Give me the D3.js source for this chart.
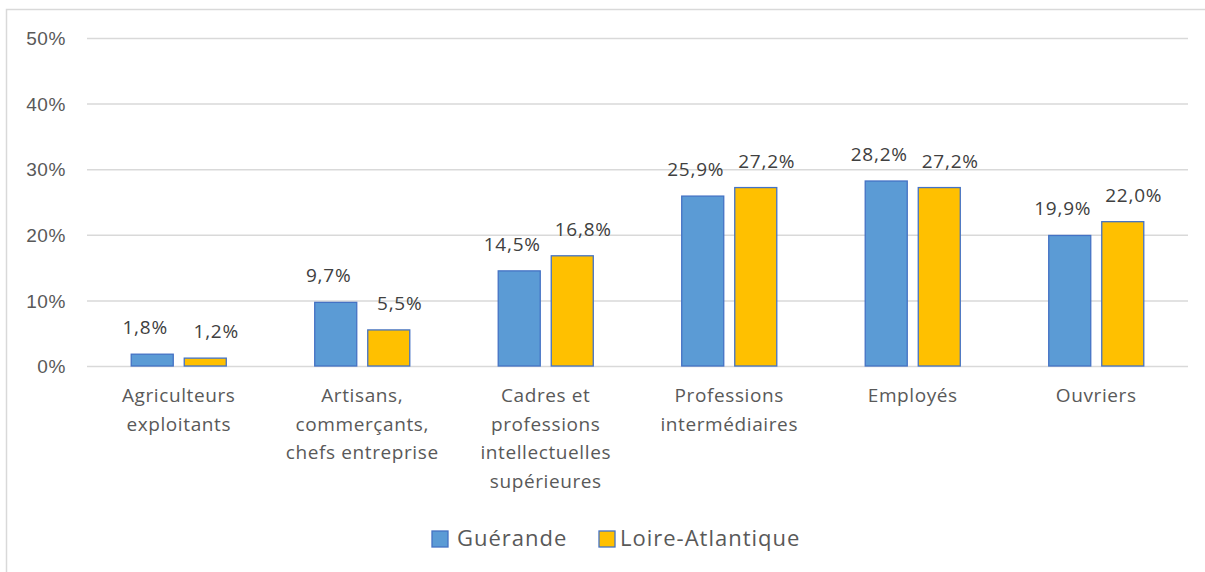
<!DOCTYPE html>
<html>
<head>
<meta charset="utf-8">
<script src="https://cdn.jsdelivr.net/npm/d3@7"></script>
<style>
  html, body { margin: 0; padding: 0; background: #fff; }
  svg { display: block; font-family: "Open Sans", sans-serif; }
</style>
</head>
<body>
<div id="chart"></div>
<script>
// categories (multi-line labels)
const categories = [
    ['Agriculteurs', 'exploitants'],
    ['Artisans,', 'commerçants,', 'chefs entreprise'],
    ['Cadres et', 'professions', 'intellectuelles', 'supérieures'],
    ['Professions', 'intermédiaires'],
    ['Employés'],
    ['Ouvriers']
];
const seriesNames = ['Guérande', 'Loire-Atlantique'];
const guerande = [1.8, 9.7, 14.5, 25.9, 28.2, 19.9];
const loireAtlantique = [1.2, 5.5, 16.8, 27.2, 27.2, 22.0];
const yTicks = [0, 10, 20, 30, 40, 50];

const colors = ['#5B9BD5', '#FFC000'];
const seriesValues = [guerande, loireAtlantique];
// labels pushed apart a bit so neighbours don't collide
const labelShift = [-7, 11];

const width = 1205, height = 572;
const margin = { top: 38, right: 17, bottom: 206, left: 87 };

const svg = d3.select('#chart').append('svg')
    .attr('width', width)
    .attr('height', height);

// chart frame
svg.append('rect')
    .attr('x', 6.5).attr('y', 9.5)
    .attr('width', width + 20).attr('height', height + 20)
    .attr('fill', 'none')
    .attr('stroke', '#d9d9d9')
    .attr('stroke-width', 1.5);

const x0 = d3.scaleBand()
    .domain(d3.range(categories.length))
    .range([margin.left, width - margin.right])
    .paddingInner(0.482)
    .paddingOuter(0.241);

const x1 = d3.scaleBand()
    .domain(d3.range(seriesNames.length))
    .range([0, x0.bandwidth()])
    .paddingInner(0.2075);

const y = d3.scaleLinear()
    .domain([0, 50])
    .range([height - margin.bottom, margin.top]);

// gridlines + y labels
const yAxis = svg.append('g')
    .attr('transform', `translate(${margin.left},0)`)
    .call(d3.axisLeft(y)
        .tickValues(yTicks)
        .tickSize(-(width - margin.left - margin.right))
        .tickPadding(21)
        .tickFormat(d => d + '%'));
yAxis.select('.domain').remove();
yAxis.selectAll('line').attr('stroke', '#d9d9d9').attr('stroke-width', 1.5);
yAxis.selectAll('text')
    .attr('fill', '#595959')
    .style('font-size', '19px')
    .style('letter-spacing', '0.6px')
    .attr('dy', '0.35em');

// bars
const groups = svg.append('g').selectAll('g')
    .data(categories)
    .join('g')
    .attr('transform', (d, i) => `translate(${x0(i)},0)`);

groups.each(function (cat, ci) {
    const g = d3.select(this);
    seriesValues.forEach((vals, si) => {
        const v = vals[ci];
        g.append('rect')
            .attr('x', x1(si))
            .attr('y', y(v))
            .attr('width', x1.bandwidth())
            .attr('height', y(0) - y(v))
            .attr('fill', colors[si])
            .attr('stroke', '#4472C4')
            .attr('stroke-width', 1.3);

        g.append('text')
            .attr('x', x1(si) + x1.bandwidth() / 2 + labelShift[si])
            .attr('y', y(v) - 20)
            .attr('text-anchor', 'middle')
            .attr('fill', '#404040')
            .style('font-size', '19px')
            .style('letter-spacing', '0.8px')
            .text(v.toFixed(1).replace('.', ',') + '%');
    });
});

// category labels
categories.forEach((lines, i) => {
    const t = svg.append('text')
        .attr('x', x0(i) + x0.bandwidth() / 2)
        .attr('y', y(0) + 36)
        .attr('text-anchor', 'middle')
        .attr('fill', '#595959')
        .style('font-size', '19px')
        .style('letter-spacing', '0.6px');
    lines.forEach((ln, k) => {
        t.append('tspan')
            .attr('x', x0(i) + x0.bandwidth() / 2)
            .attr('dy', k === 0 ? 0 : 28.5)
            .text(ln);
    });
});

// legend
const legendItems = [
    { name: seriesNames[0], x: 432 },
    { name: seriesNames[1], x: 599 }
];
const legend = svg.append('g');
legendItems.forEach((it, i) => {
    legend.append('rect')
        .attr('x', it.x).attr('y', 531)
        .attr('width', 16).attr('height', 16)
        .attr('fill', colors[i])
        .attr('stroke', '#4472C4')
        .attr('stroke-width', 1.3);
    legend.append('text')
        .attr('x', it.x + (i === 0 ? 25 : 21))
        .attr('y', 546)
        .attr('fill', '#595959')
        .style('font-size', '22px')
        .style('letter-spacing', '1px')
        .text(it.name);
});
</script>
</body>
</html>
